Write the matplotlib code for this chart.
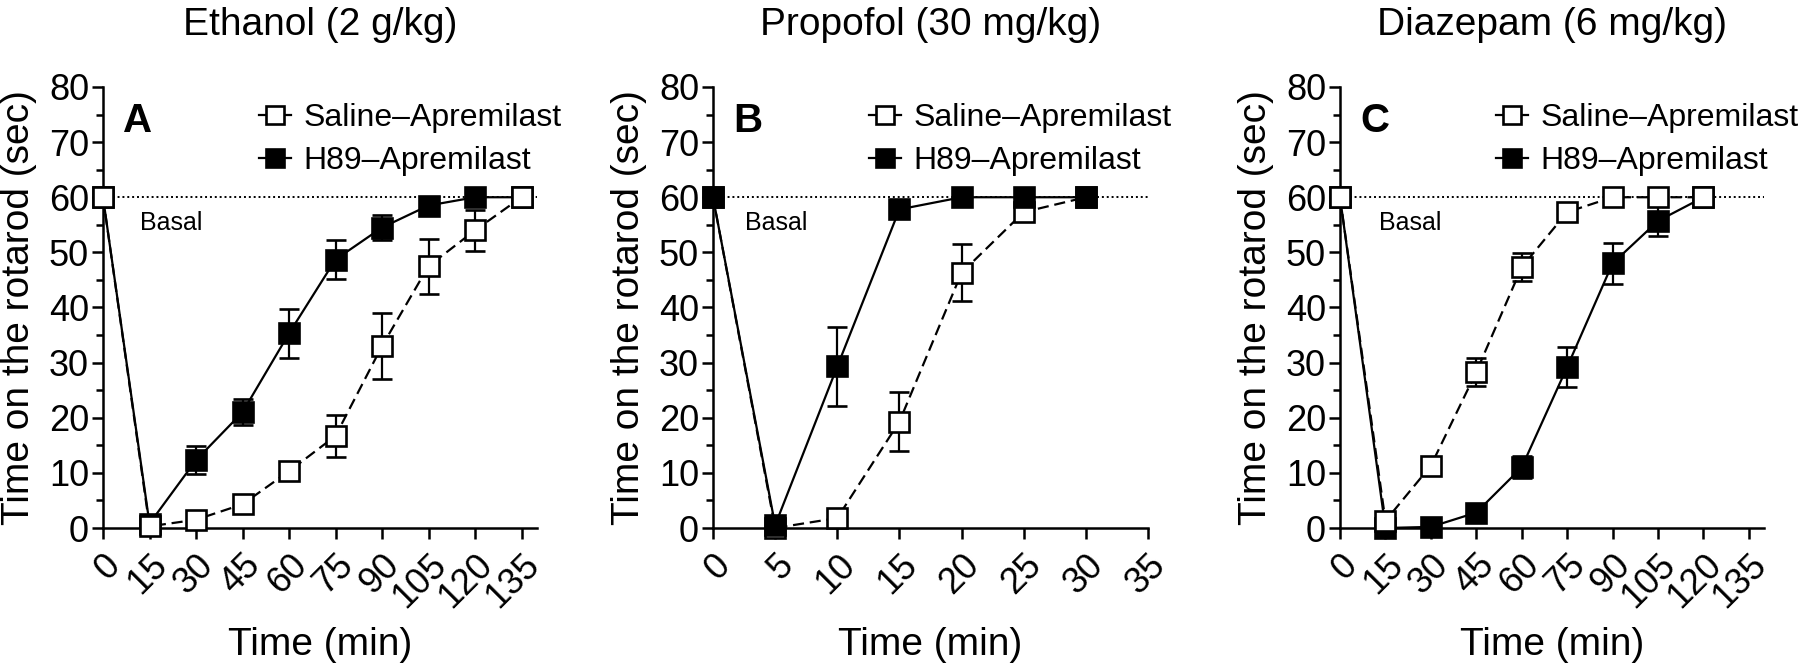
import matplotlib
matplotlib.use("Agg")
import matplotlib.pyplot as plt
import matplotlib.transforms as mtransforms
from matplotlib.lines import Line2D
from matplotlib.ticker import MultipleLocator

plt.rcParams['font.family'] = ['Liberation Sans', 'DejaVu Sans']

# ---------------- data ----------------
titles = ["Ethanol (2 g/kg)", "Propofol (30 mg/kg)", "Diazepam (6 mg/kg)"]
letters = ["A", "B", "C"]
series_labels = ["Saline\u2013Apremilast", "H89\u2013Apremilast"]

time_A = [0, 15, 30, 45, 60, 75, 90, 105, 120, 135]
sal_A = [60, 0.3, 1.5, 4.3, 10.3, 16.7, 33.0, 47.5, 54.0, 60]
sal_A_err = [0, 0.5, 0.5, 0.6, 1.0, 3.8, 6.0, 5.0, 3.7, 0]
h89_A = [60, 0.8, 12.3, 21.0, 35.3, 48.7, 54.5, 58.5, 60, 60]
h89_A_err = [0, 0.5, 2.5, 2.4, 4.4, 3.5, 2.2, 0.8, 0.3, 0]

time_B = [0, 5, 10, 15, 20, 25, 30]
sal_B = [60, 0.0, 1.8, 19.3, 46.3, 57.3, 60]
sal_B_err = [0, 0.3, 0.5, 5.4, 5.2, 1.0, 0]
h89_B = [60, 0.5, 29.3, 57.8, 60, 60, 60]
h89_B_err = [0, 0.8, 7.2, 1.2, 0, 0, 0]

time_C = [0, 15, 30, 45, 60, 75, 90, 105, 120]
sal_C = [60, 1.3, 11.3, 28.3, 47.3, 57.3, 60, 60, 60]
sal_C_err = [0, 0.5, 0.8, 2.5, 2.5, 1.0, 0, 0.5, 0]
h89_C = [60, 0.0, 0.2, 2.8, 11.0, 29.2, 48.0, 55.7, 60]
h89_C_err = [0, 0.3, 0.3, 0.5, 2.0, 3.7, 3.7, 2.7, 0]

xticks_A = [0, 15, 30, 45, 60, 75, 90, 105, 120, 135]
xticks_B = [0, 5, 10, 15, 20, 25, 30, 35]
xticks_C = [0, 15, 30, 45, 60, 75, 90, 105, 120, 135]
basal = 60

# ---------------- layout ----------------
W, H = 1800, 667
fig = plt.figure(figsize=(18, 6.67), dpi=100)

ax_bottom_px, ax_top_px = 528, 87
panels = [
    dict(left=103, width=434, xlim=(0, 140), xticks=xticks_A, t=time_A,
         s=sal_A, se=sal_A_err, h=h89_A, he=h89_A_err, sal_top=True, basal_dx=37),
    dict(left=713, width=435, xlim=(0, 35), xticks=xticks_B, t=time_B,
         s=sal_B, se=sal_B_err, h=h89_B, he=h89_B_err, sal_top=False, basal_dx=32),
    dict(left=1340, width=424, xlim=(0, 140), xticks=xticks_C, t=time_C,
         s=sal_C, se=sal_C_err, h=h89_C, he=h89_C_err, sal_top=True, basal_dx=39),
]

lw = 1.6
ms = 15
mew = 1.9
cap = 7

for i, p in enumerate(panels):
    hpx = ax_bottom_px - ax_top_px
    ax = fig.add_axes([p['left'] / W, (H - ax_bottom_px) / H, p['width'] / W, hpx / H])
    ax.set_xlim(*p['xlim'])
    ax.set_ylim(0, 80)
    for sp in ['top', 'right']:
        ax.spines[sp].set_visible(False)
    for sp in ['left', 'bottom']:
        ax.spines[sp].set_linewidth(1.8)

    ax.axhline(basal, color='black', lw=1.4, ls=(0, (1, 1.5)), zorder=1)

    zs = 4 if p['sal_top'] else 3
    zh = 3 if p['sal_top'] else 4
    # saline: open squares, dashed line
    ax.errorbar(p['t'], p['s'], yerr=p['se'], color='black', lw=lw,
                dashes=(5, 2.6), marker='s', ms=ms, mfc='white', mec='black',
                mew=mew, ecolor='black', elinewidth=lw, capsize=cap, capthick=lw,
                zorder=zs, clip_on=False)
    # H89: filled squares, solid line
    ax.errorbar(p['t'], p['h'], yerr=p['he'], color='black', lw=lw, ls='-',
                marker='s', ms=ms, mfc='black', mec='black', mew=mew,
                ecolor='black', elinewidth=lw, capsize=cap, capthick=lw,
                zorder=zh, clip_on=False)
    for c in ax.get_children():
        try:
            c.set_clip_on(False)
        except Exception:
            pass

    ax.set_xticks(p['xticks'])
    ax.set_xticklabels([str(v) for v in p['xticks']], rotation=45, ha='right',
                       va='top', rotation_mode='anchor')
    ax.yaxis.set_major_locator(MultipleLocator(10))
    ax.yaxis.set_minor_locator(MultipleLocator(5))
    ax.tick_params(axis='both', which='major', labelsize=26, width=1.8, length=8,
                   direction='out', pad=2)
    ax.tick_params(axis='y', which='minor', width=1.8, length=5)
    ax.tick_params(axis='x', which='major', pad=6)

    # labels
    ax.text(0.5, (ax_bottom_px - 655) / hpx, "Time (min)", transform=ax.transAxes,
            ha='center', va='baseline', fontsize=28)
    ax.text(-84 / p['width'], 0.5, "Time on the rotarod (sec)", transform=ax.transAxes,
            ha='center', va='center', rotation=90, fontsize=28)
    ax.text(0.5, 1 + (ax_top_px - 35) / hpx, titles[i], transform=ax.transAxes,
            ha='center', va='baseline', fontsize=28)
    ax.text(20 / p['width'], 1 - (132 - ax_top_px) / hpx, letters[i],
            transform=ax.transAxes, ha='left', va='baseline', fontsize=29,
            fontweight='bold')
    ax.text(p['basal_dx'] / p['width'], 55.3, "Basal",
            transform=mtransforms.blended_transform_factory(ax.transAxes, ax.transData),
            ha='left', va='center', fontsize=18)

    handles = [
        Line2D([], [], color='black', lw=lw, marker='s', ms=ms * 0.85, mfc='white',
               mec='black', mew=mew),
        Line2D([], [], color='black', lw=lw, marker='s', ms=ms * 0.85, mfc='black',
               mec='black', mew=mew),
    ]
    ax.legend(handles, series_labels, loc='upper left',
              bbox_to_anchor=(156 / p['width'], 1 + (ax_top_px - 103) / hpx),
              frameon=False, fontsize=23, handlelength=1.0, handletextpad=0.4,
              borderpad=0, borderaxespad=0, labelspacing=0.42)

fig.savefig("out.png", dpi=100)
